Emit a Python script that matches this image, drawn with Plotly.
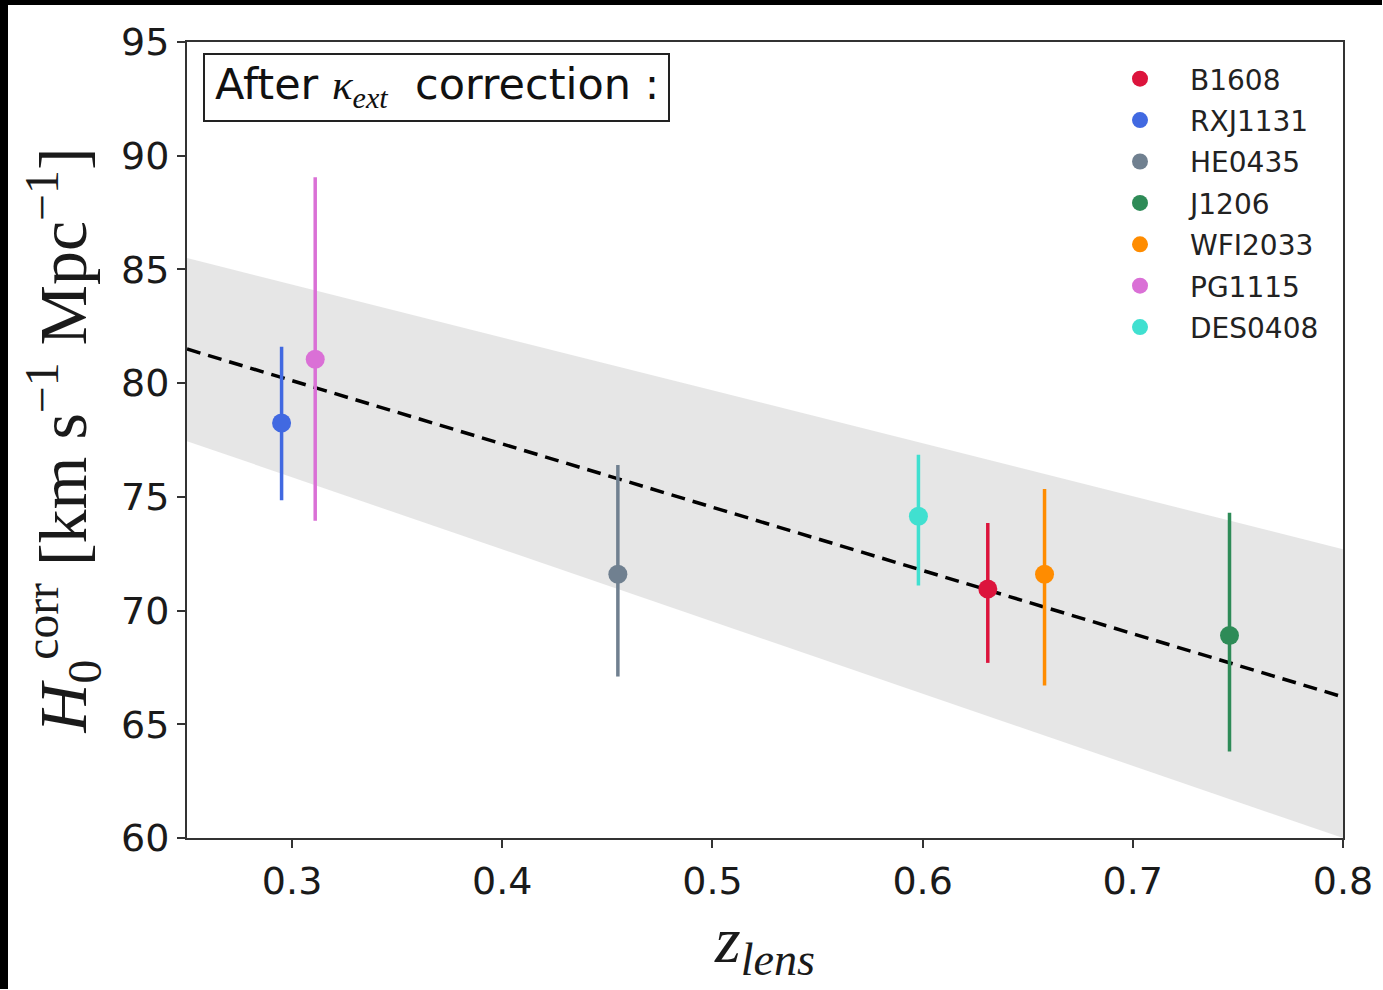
import plotly.graph_objects as go

# ---- data ----
lenses = ["B1608", "RXJ1131", "HE0435", "J1206", "WFI2033", "PG1115", "DES0408"]
z_lens = [0.631, 0.295, 0.455, 0.746, 0.658, 0.311, 0.598]
h0 = [70.95, 78.25, 71.6, 68.9, 71.6, 81.05, 74.15]
err_plus = [2.9, 3.35, 4.8, 5.4, 3.75, 8.0, 2.7]
err_minus = [3.25, 3.4, 4.5, 5.1, 4.9, 7.1, 3.05]
colors = ["#DC143C", "#4169E1", "#708090", "#2E8B57", "#FF8C00", "#DA70D6", "#40E0D0"]

fit_z = [0.25, 0.8]
fit_h0 = [81.5, 66.2]
band_upper = [85.5, 72.7]
band_lower = [77.45, 60.0]

x_ticks = [0.3, 0.4, 0.5, 0.6, 0.7, 0.8]
y_ticks = [60, 65, 70, 75, 80, 85, 90, 95]

W, H = 1383, 990
L, R, T, B = 187, 40, 42, 152
pw = W - L - R
ph = H - T - B

fig = go.Figure()

# band
fig.add_trace(go.Scatter(x=fit_z, y=band_lower, mode="lines", line=dict(width=0),
                         showlegend=False, hoverinfo="skip"))
fig.add_trace(go.Scatter(x=fit_z, y=band_upper, mode="lines", line=dict(width=0),
                         fill="tonexty", fillcolor="rgba(200,200,200,0.45)",
                         showlegend=False, hoverinfo="skip"))
# fit line
fig.add_trace(go.Scatter(x=fit_z, y=fit_h0, mode="lines",
                         line=dict(color="black", width=3.5, dash="14px,8px"),
                         showlegend=False, hoverinfo="skip"))

for name, z, h, ep, em, c in zip(lenses, z_lens, h0, err_plus, err_minus, colors):
    fig.add_trace(go.Scatter(
        x=[z], y=[h], mode="markers", name=name, legendgroup=name,
        marker=dict(color=c, size=19),
        error_y=dict(type="data", symmetric=False, array=[ep], arrayminus=[em],
                     color=c, thickness=3.5, width=0),
    ))

axis_common = dict(showline=True, linecolor="#333", linewidth=2, mirror=True,
                   ticks="outside", ticklen=8, tickwidth=2, tickcolor="#333",
                   showgrid=False, zeroline=False, automargin=False,
                   tickfont=dict(family="DejaVu Sans", size=38, color="#1a1a1a"))

fig.update_xaxes(range=[0.25, 0.8], tickvals=x_ticks, ticktext=[str(v) for v in x_ticks],
                 title=dict(text="<i>z<sub>lens</sub></i>",
                            font=dict(family="Liberation Serif", size=66, color="#1a1a1a"),
                            standoff=8),
                 **axis_common)
fig.update_yaxes(range=[60, 95], tickvals=y_ticks, ticktext=[str(v) for v in y_ticks],
                 title=dict(text="<i>H</i><sub>0</sub><sup>corr</sup> [km s<sup>−1</sup> Mpc<sup>−1</sup>]",
                            font=dict(family="Liberation Serif", size=68, color="#1a1a1a"),
                            standoff=12),
                 **axis_common)

# annotation box (frame drawn as a shape, text centred inside)
bx0, bx1, by0, by1 = 204, 669, 54, 121
fig.add_shape(type="rect", xref="paper", yref="paper",
              x0=(bx0 - L) / pw, x1=(bx1 - L) / pw,
              y0=1 - (by1 - T) / ph, y1=1 - (by0 - T) / ph,
              line=dict(color="#222", width=2), fillcolor="white", layer="above")
fig.add_annotation(xref="paper", yref="paper",
                   x=((bx0 + bx1) / 2 - L) / pw, y=1 - ((by0 + by1) / 2 - T) / ph,
                   xanchor="center", yanchor="middle",
                   text="After&nbsp;<i><span style='font-family:Liberation Serif'>κ<sub>ext</sub></span></i>&nbsp; correction :",
                   showarrow=False, font=dict(family="DejaVu Sans", size=43, color="#111"))

# black edge strips of the original picture
fig.add_shape(type="rect", xref="paper", yref="paper", x0=-L / pw, x1=(W - L - 1) / pw,
              y0=1 + (T - 5) / ph, y1=1 + T / ph, fillcolor="black", line=dict(width=0), layer="above")
fig.add_shape(type="rect", xref="paper", yref="paper", x0=-L / pw, x1=(8 - L) / pw,
              y0=-(B - 1) / ph, y1=1 + T / ph, fillcolor="black", line=dict(width=0), layer="above")

fig.update_layout(
    width=W, height=H, margin=dict(l=L, r=R, t=T, b=B, autoexpand=False),
    paper_bgcolor="white", plot_bgcolor="white",
    legend=dict(x=(1090 - L) / pw, y=1 - (54 - T) / ph, xanchor="left", yanchor="top",
                font=dict(family="DejaVu Sans", size=28, color="#222"),
                bgcolor="rgba(0,0,0,0)", itemwidth=90, traceorder="grouped",
                tracegroupgap=2),
)

fig.write_html(
    "out.html",
    post_script="document.documentElement.style.overflow='hidden';"
                "document.body.style.overflow='hidden';document.body.style.margin='0';",
)
